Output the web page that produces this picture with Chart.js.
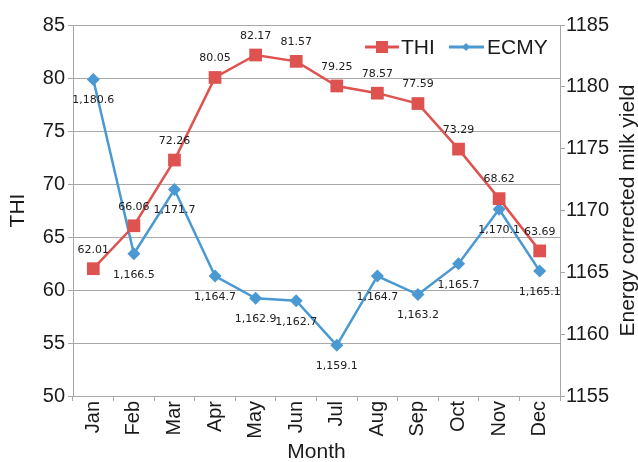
<!DOCTYPE html>
<html>
<head>
<meta charset="utf-8">
<script src="https://cdn.jsdelivr.net/npm/chart.js@4/dist/chart.umd.min.js"></script>
<style>
  html, body { margin: 0; padding: 0; background: #ffffff; }
  #wrap { width: 638px; height: 462px; }
</style>
</head>
<body>
<div id="wrap"><canvas id="c" width="638" height="462"></canvas></div>
<script>
const months = ['Jan','Feb','Mar','Apr','May','Jun','Jul','Aug','Sep','Oct','Nov','Dec'];
const thiValues = [62.01, 66.06, 72.26, 80.05, 82.17, 81.57, 79.25, 78.57, 77.59, 73.29, 68.62, 63.69];
const ecmyValues = [1180.6, 1166.5, 1171.7, 1164.7, 1162.9, 1162.7, 1159.1, 1164.7, 1163.2, 1165.7, 1170.1, 1165.1];
const thiTicks = [50, 55, 60, 65, 70, 75, 80, 85];
const ecmyTicks = [1155, 1160, 1165, 1170, 1175, 1180, 1185];

const RED = '#DE5250';
const BLUE = '#4A99D3';
const GRID = '#A8A8A8';
const TEXT = '#1a1a1a';
const FONT = '"Liberation Sans", Arial, sans-serif';

function fmtEcmy(v) {
  return v.toLocaleString('en-US', {minimumFractionDigits: 1, maximumFractionDigits: 1});
}

const labelPlugin = {
  id: 'pointLabels',
  afterDatasetsDraw(chart) {
    const ctx = chart.ctx;
    ctx.save();
    ctx.font = '11px "DejaVu Sans", Verdana, sans-serif';
    ctx.fillStyle = '#202020';
    ctx.textAlign = 'center';
    ctx.textBaseline = 'middle';
    chart.getDatasetMeta(0).data.forEach((pt, i) => {
      ctx.fillText(thiValues[i].toFixed(2), pt.x, pt.y - 19);
    });
    chart.getDatasetMeta(1).data.forEach((pt, i) => {
      ctx.fillText(fmtEcmy(ecmyValues[i]), pt.x, pt.y + 21);
    });
    ctx.restore();
  },
  afterDraw(chart) {
    const ctx = chart.ctx;
    const area = chart.chartArea;
    ctx.save();
    // legend
    const ly = 47;
    ctx.lineWidth = 3;
    ctx.strokeStyle = RED;
    ctx.beginPath(); ctx.moveTo(365, ly); ctx.lineTo(399, ly); ctx.stroke();
    ctx.fillStyle = RED;
    ctx.fillRect(376, ly - 6, 12, 12);
    ctx.strokeStyle = BLUE;
    ctx.beginPath(); ctx.moveTo(449, ly); ctx.lineTo(484, ly); ctx.stroke();
    ctx.fillStyle = BLUE;
    ctx.beginPath();
    ctx.moveTo(466, ly - 4); ctx.lineTo(470, ly); ctx.lineTo(466, ly + 4); ctx.lineTo(462, ly);
    ctx.closePath(); ctx.fill();
    ctx.fillStyle = TEXT;
    ctx.font = '21px ' + FONT;
    ctx.textAlign = 'left';
    ctx.textBaseline = 'middle';
    ctx.fillText('THI', 401, ly + 1);
    ctx.fillText('ECMY', 487, ly + 1);
    // right axis title (reads bottom to top)
    ctx.translate(628, (area.top + area.bottom) / 2);
    ctx.rotate(-Math.PI / 2);
    ctx.textAlign = 'center';
    ctx.fillText('Energy corrected milk yield', 0, 0);
    ctx.restore();
  }
};

new Chart(document.getElementById('c'), {
  type: 'line',
  data: {
    labels: months,
    datasets: [
      {
        label: 'THI',
        data: thiValues,
        yAxisID: 'y',
        borderColor: RED,
        backgroundColor: RED,
        borderWidth: 2.5,
        pointStyle: 'rect',
        pointRadius: 9,
        pointHoverRadius: 9,
        pointBorderWidth: 0,
        tension: 0
      },
      {
        label: 'ECMY',
        data: ecmyValues,
        yAxisID: 'y1',
        borderColor: BLUE,
        backgroundColor: BLUE,
        borderWidth: 2.5,
        pointStyle: 'rectRot',
        pointRadius: 6.5,
        pointHoverRadius: 6.5,
        pointBorderWidth: 0,
        tension: 0
      }
    ]
  },
  options: {
    responsive: false,
    animation: false,
    layout: { padding: { top: 25, left: 0, right: 0, bottom: 0 } },
    plugins: {
      legend: { display: false },
      tooltip: { enabled: false }
    },
    scales: {
      x: {
        type: 'category',
        offset: true,
        afterFit(s) { s.height = 66; },
        grid: {
          offset: true,
          drawOnChartArea: false,
          drawTicks: true,
          tickLength: 5,
          color: GRID
        },
        border: { color: GRID, width: 1 },
        ticks: {
          minRotation: 90,
          maxRotation: 90,
          padding: 0,
          color: TEXT,
          font: { family: FONT, size: 20 }
        },
        title: {
          display: true,
          text: 'Month',
          color: TEXT,
          padding: { top: 0, bottom: -3 },
          font: { family: FONT, size: 21 }
        }
      },
      y: {
        position: 'left',
        min: 50,
        max: 85,
        afterFit(s) { s.width = 73; },
        afterBuildTicks(s) { s.ticks = thiTicks.map(v => ({ value: v })); },
        grid: {
          color: GRID,
          lineWidth: 1,
          drawTicks: true,
          tickLength: 5
        },
        border: { color: GRID, width: 1 },
        ticks: {
          padding: 3,
          color: TEXT,
          font: { family: FONT, size: 20 },
          callback: v => String(v)
        },
        title: {
          display: true,
          text: 'THI',
          color: TEXT,
          padding: { top: 6, bottom: 0 },
          font: { family: FONT, size: 21 }
        }
      },
      y1: {
        position: 'right',
        min: 1155,
        max: 1185,
        afterFit(s) { s.width = 78; },
        afterBuildTicks(s) { s.ticks = ecmyTicks.map(v => ({ value: v })); },
        grid: {
          drawOnChartArea: false,
          drawTicks: true,
          tickLength: 5,
          color: GRID
        },
        border: { color: GRID, width: 1 },
        ticks: {
          padding: 1,
          color: TEXT,
          font: { family: FONT, size: 20 },
          callback: v => String(v)
        }
      }
    }
  },
  plugins: [labelPlugin]
});
</script>
</body>
</html>
